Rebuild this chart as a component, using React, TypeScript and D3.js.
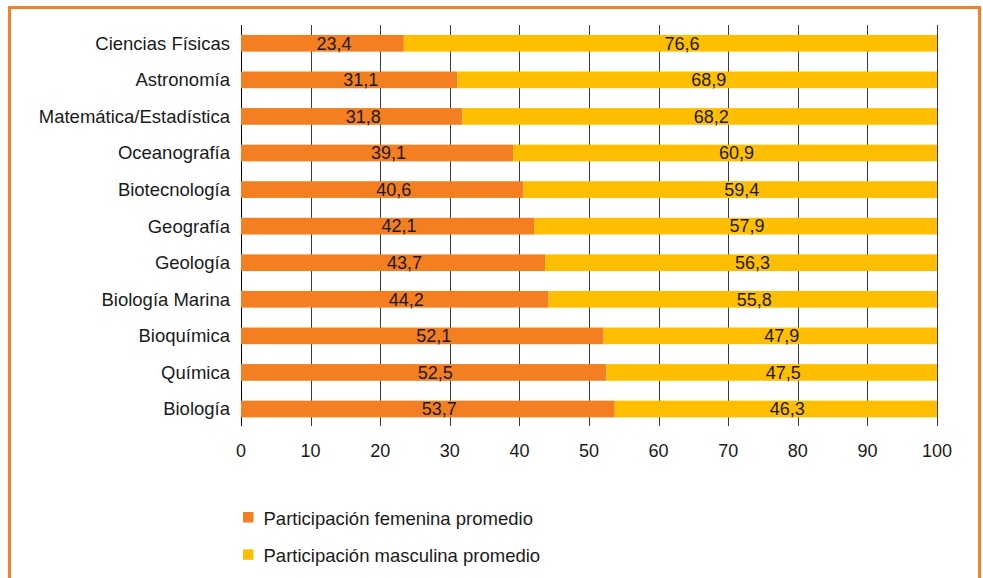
import React from "react";
import * as d3 from "d3";

const categories = [
  "Ciencias Físicas",
  "Astronomía",
  "Matemática/Estadística",
  "Oceanografía",
  "Biotecnología",
  "Geografía",
  "Geología",
  "Biología Marina",
  "Bioquímica",
  "Química",
  "Biología",
];
const femenina = [23.4, 31.1, 31.8, 39.1, 40.6, 42.1, 43.7, 44.2, 52.1, 52.5, 53.7];
const masculina = [76.6, 68.9, 68.2, 60.9, 59.4, 57.9, 56.3, 55.8, 47.9, 47.5, 46.3];
const xTicks = [0, 10, 20, 30, 40, 50, 60, 70, 80, 90, 100];
const seriesNames = ["Participación femenina promedio", "Participación masculina promedio"];

const W = 983;
const H = 578;
const ORANGE = "#F47F20";
const YELLOW = "#FFBF00";
const FRAME = "#F5822A";
const TEXT = "#1a1a1a";
const FONT = "'Liberation Sans', Arial, Helvetica, sans-serif";
const WORD_SIZE = 18.5;
const NUM_SIZE = 18;

const fmt = (v: number) => v.toFixed(1).replace(".", ",");

export default function App() {
  const x = d3.scaleLinear().domain([0, 100]).range([241, 937]);
  const y = d3
    .scaleBand<string>()
    .domain(categories)
    .range([25, 427.3])
    .paddingInner(0.543)
    .paddingOuter(0.2715);
  const bw = y.bandwidth();
  const labelShift = 11.5;
  const colors = [ORANGE, YELLOW];

  return (
    <svg
      width={W}
      height={H}
      style={{ position: "absolute", left: 0, top: 0, background: "#fff" }}
      fontFamily={FONT}
    >
      <rect x={9.5} y={7.5} width={970} height={620} fill="#fff" stroke={FRAME} strokeWidth={3} />

      {/* vertical gridlines */}
      {xTicks.map((t) => (
        <line
          key={"g" + t}
          x1={Math.round(x(t)) + 0.5}
          x2={Math.round(x(t)) + 0.5}
          y1={25}
          y2={426}
          stroke={t === 0 ? "#000" : "#3a3a3a"}
          strokeWidth={1}
        />
      ))}

      {/* stacked bars */}
      {categories.map((c, i) => {
        const yy = y(c)!;
        const f = femenina[i];
        const m = masculina[i];
        return (
          <g key={c}>
            <rect x={x(0)} y={yy} width={x(f) - x(0)} height={bw} fill={ORANGE} />
            <rect x={x(f)} y={yy} width={x(f + m) - x(f)} height={bw} fill={YELLOW} />
            <text
              x={(x(0) + x(f)) / 2 + labelShift}
              y={yy + bw / 2}
              dy="0.35em"
              textAnchor="middle"
              fontSize={NUM_SIZE}
              fill={TEXT}
            >
              {fmt(f)}
            </text>
            <text
              x={(x(f) + x(f + m)) / 2 + labelShift}
              y={yy + bw / 2}
              dy="0.35em"
              textAnchor="middle"
              fontSize={NUM_SIZE}
              fill={TEXT}
            >
              {fmt(m)}
            </text>
            <text
              x={230}
              y={yy + bw / 2}
              dy="0.35em"
              textAnchor="end"
              fontSize={WORD_SIZE}
              fill={TEXT}
            >
              {c}
            </text>
          </g>
        );
      })}

      {/* x axis labels */}
      {xTicks.map((t) => (
        <text key={"t" + t} x={x(t)} y={457} textAnchor="middle" fontSize={NUM_SIZE} fill={TEXT}>
          {t}
        </text>
      ))}

      {/* legend */}
      {seriesNames.map((s, i) => (
        <g key={s} transform={`translate(243, ${512 + i * 37.3})`}>
          <rect x={0} y={0} width={10.5} height={10.5} fill={colors[i]} />
          <text x={20.5} y={13} fontSize={WORD_SIZE} fill={TEXT}>
            {s}
          </text>
        </g>
      ))}
    </svg>
  );
}
